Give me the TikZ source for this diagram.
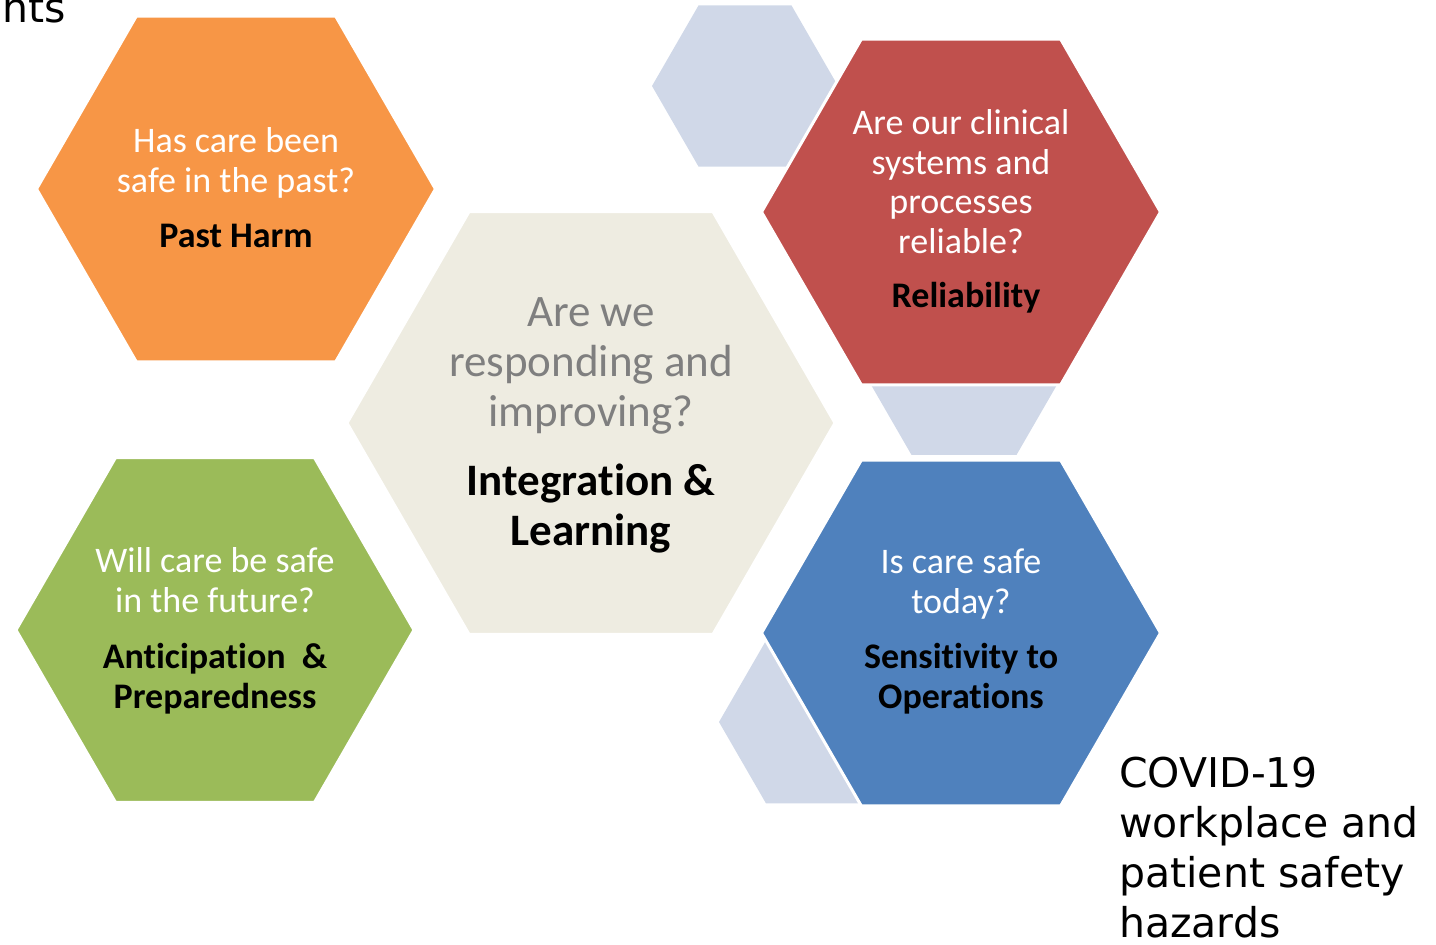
\documentclass[tikz,border=0pt]{standalone}
\usepackage{fontspec}
\setmainfont{Carlito}[Ligatures=NoCommon]
\newfontfamily\slidefont{DejaVu Sans}
\usepackage{tikz}
\tikzset{>=latex}
\usetikzlibrary{shapes.geometric}

\definecolor{pastorange}{HTML}{F79646}
\definecolor{reliared}{HTML}{C0504D}
\definecolor{todayblue}{HTML}{4F81BD}
\definecolor{futuregreen}{HTML}{9BBB59}
\definecolor{learnbeige}{HTML}{EEECE1}
\definecolor{palehex}{HTML}{D0D8E8}
\definecolor{asktext}{HTML}{7F7F7F}

\tikzset{
  hexa/.style={regular polygon, regular polygon sides=6, inner sep=0pt, outer sep=0pt, draw=white, line width=3pt},
  question/.style={white, font=\fontsize{36}{39.5}\selectfont, align=center, anchor=base, inner sep=0pt},
  answer/.style={black, font=\bfseries\fontsize{36}{39.5}\selectfont, align=center, anchor=base, inner sep=0pt},
  covid/.style={black, font=\slidefont\fontsize{41}{50}\selectfont, align=left, anchor=base west, inner sep=0pt}
}

\begin{document}
\begin{tikzpicture}[x=1pt, y=-1pt]
 \useasboundingbox (0,0) rectangle (1436,945);

 % pale hexagons behind the coloured ones
 \foreach \cx/\cy/\sz/\nm in {745/86/186/paleA, 964/364/210/paleB, 813/722/188/paleC}{
    \node[hexa, draw=none, fill=palehex, minimum size=\sz pt] (\nm) at (\cx,\cy) {};
 }

 \node[hexa, fill=pastorange, minimum size=399pt] (past) at (236,189) {};
 \node[hexa, fill=reliared, minimum size=399pt] (reliab) at (961,212) {};
 \node[hexa, fill=todayblue, minimum size=399pt] (today) at (961,633) {};
 \node[hexa, fill=futuregreen, minimum size=398pt] (future) at (215,630) {};
 \node[hexa, fill=learnbeige, minimum size=488pt] (learn) at (591,423) {};

 % texts (anchor = baseline of the last line)
 \node[question] (pastq) at (236,192) {Has care been\\safe in the past?};
 \node[answer] (pasta) at (236,247) {Past Harm};

 \node[question] (reliabq) at (961,253) {Are our clinical\\systems and\\processes\\reliable?};
 \node[answer] (reliaba) at (966,307) {Reliability};

 \node[question] (todayq) at (961,613) {Is care safe\\today?};
 \node[answer] (todaya) at (961,708) {Sensitivity to\\Operations};

 \node[question] (futureq) at (215,612) {Will care be safe\\in the future?};
 \node[answer] (futurea) at (215,708) {Anticipation\ \ \&\\Preparedness};

 \node[question, asktext, font=\fontsize{45}{50}\selectfont] (learnq) at (591,426) {Are we\\responding and\\improving?};
 \node[answer, font=\bfseries\fontsize{45}{50}\selectfont] (learna) at (591,545) {Integration \&\\Learning};

 \node[covid] (corner) at (2,22) {nts};
 \node[covid] (hazards) at (1119,937) {COVID-19\\workplace and\\patient safety\\hazards};

\end{tikzpicture}
\end{document}
